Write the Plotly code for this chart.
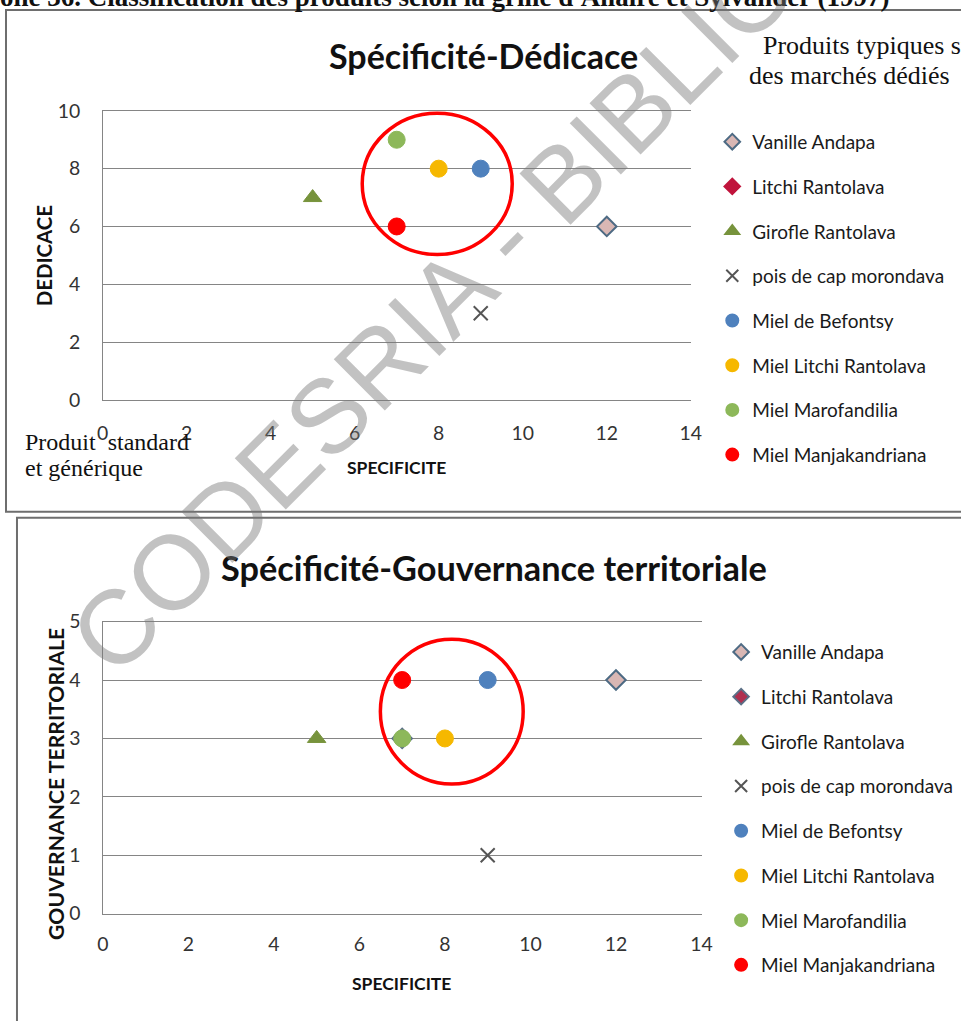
import plotly.graph_objects as go

W, H = 961, 1021

# ---------------- data ----------------
series = ["Vanille Andapa", "Litchi Rantolava", "Girofle Rantolava", "pois de cap morondava",
          "Miel de Befontsy", "Miel Litchi Rantolava", "Miel Marofandilia", "Miel Manjakandriana"]
specificite_1 = [12, 7, 5, 9, 9, 8, 7, 7]
dedicace = [6, 6, 7, 3, 8, 8, 9, 6]
specificite_2 = [12, 7, 5, 9, 9, 8, 7, 7]
gouvernance = [4, 3, 3, 1, 4, 3, 3, 4]
x_ticks = [0, 2, 4, 6, 8, 10, 12, 14]
y_ticks_1 = [0, 2, 4, 6, 8, 10]
y_ticks_2 = [0, 1, 2, 3, 4, 5]

# ---------------- styles ----------------
styles = [
    dict(symbol="diamond", size=15, color="#D9B7B4", line=dict(color="#4E6B84", width=2)),
    dict(symbol="diamond", size=13, color="#C0143C", line=dict(color="#C0143C", width=1)),
    dict(symbol="triangle-up", size=16, color="#77933C", line=dict(color="#77933C", width=1)),
    dict(symbol="x-thin", size=14, color="#555555", line=dict(color="#555555", width=2)),
    dict(symbol="circle", size=17, color="#4F81BD", line=dict(color="#4F81BD", width=1)),
    dict(symbol="circle", size=17, color="#F6B800", line=dict(color="#F6B800", width=1)),
    dict(symbol="circle", size=17, color="#8DB85A", line=dict(color="#8DB85A", width=1)),
    dict(symbol="circle", size=17, color="#FF0000", line=dict(color="#FF0000", width=1)),
]
styles2 = [dict(s) for s in styles]
styles2[1] = dict(symbol="diamond", size=15, color="#B03050", line=dict(color="#5B6F86", width=2))

FONT = "Lato, 'Open Sans', sans-serif"
SERIF = "'Liberation Serif', 'Times New Roman', serif"

fig = go.Figure()

for i, name in enumerate(series):
    fig.add_trace(go.Scatter(
        x=[specificite_1[i]], y=[dedicace[i]], mode="markers", name=name,
        marker=styles[i], xaxis="x", yaxis="y", legend="legend",
        legendgroup="a" + str(i), showlegend=True))
for i, name in enumerate(series):
    fig.add_trace(go.Scatter(
        x=[specificite_2[i]], y=[gouvernance[i]], mode="markers", name=name,
        marker=styles2[i], xaxis="x2", yaxis="y2", legend="legend2",
        legendgroup="b" + str(i), showlegend=True))


# map a target position (in pixels of the photographed page) to paper coordinates
def px_x(p):
    return ((p - 5) / 0.984) / W


def px_y(p):
    return 1 - ((p - 12) / 0.976) / H


GRID = "#858585"
tickfont = dict(family=FONT, size=19.4, color="#333333")


def xaxis(domain, anchor, ticklen):
    return dict(domain=domain, range=[0, 14], tickvals=x_ticks, ticklen=ticklen, anchor=anchor,
                showgrid=False, zeroline=False, ticks="outside", tickcolor="rgba(0,0,0,0)",
                showline=True, mirror=True, linecolor=GRID, linewidth=1,
                tickfont=tickfont, fixedrange=True)


def yaxis(domain, anchor, rng, vals):
    return dict(domain=domain, range=rng, tickvals=vals, ticklen=17.5, anchor=anchor,
                showgrid=True, gridcolor=GRID, gridwidth=1, zeroline=False,
                ticks="outside", tickcolor="rgba(0,0,0,0)",
                showline=True, linecolor=GRID, linewidth=1,
                tickfont=tickfont, fixedrange=True)


legend_font = dict(family=FONT, size=19, color="#1a1a1a")

fig.update_layout(
    width=W, height=H, margin=dict(l=0, r=0, t=0, b=0),
    paper_bgcolor="white", plot_bgcolor="white", showlegend=True,
    xaxis=xaxis([px_x(101.7), px_x(691)], "y", 15.5),
    yaxis=yaxis([px_y(399.3), px_y(110.7)], "x", [0, 10], y_ticks_1),
    xaxis2=xaxis([px_x(102), px_x(701.7)], "y2", 12.7),
    yaxis2=yaxis([px_y(912.3), px_y(620.7)], "x2", [0, 5], y_ticks_2),
    legend=dict(x=(719 / W), y=1 - 113.4 / H, xanchor="left", yanchor="top",
                font=legend_font, bgcolor="rgba(0,0,0,0)",
                traceorder="grouped", tracegroupgap=17, itemsizing="constant"),
    legend2=dict(x=(728 / W), y=1 - 635.4 / H, xanchor="left", yanchor="top",
                 font=legend_font, bgcolor="rgba(0,0,0,0)",
                 traceorder="grouped", tracegroupgap=17, itemsizing="constant"),
)

shapes = [
    # chart frames
    dict(type="rect", xref="paper", yref="paper", x0=px_x(5), x1=px_x(990), y0=px_y(511), y1=px_y(10),
         line=dict(color="#6e6e6e", width=2), layer="below"),
    dict(type="rect", xref="paper", yref="paper", x0=px_x(16), x1=px_x(990), y0=px_y(1040), y1=px_y(517),
         line=dict(color="#6e6e6e", width=2), layer="below"),
    # red circles
    dict(type="circle", xref="x", yref="y", x0=6.18, x1=9.75, y0=5.03, y1=9.92,
         line=dict(color="#FF0000", width=3.5)),
    dict(type="circle", xref="x2", yref="y2", x0=6.49, x1=9.83, y0=2.22, y1=4.70,
         line=dict(color="#FF0000", width=3.5)),
]
fig.update_layout(shapes=shapes)

ann = []


def a(text, x, y, size, family=FONT, bold=False, xanchor="center", yanchor="middle",
      angle=0, color="#111111"):
    t = "<b>" + text + "</b>" if bold else text
    ann.append(dict(text=t, x=px_x(x), y=px_y(y), xref="paper", yref="paper", showarrow=False,
                    xanchor=xanchor, yanchor=yanchor, textangle=angle,
                    font=dict(family=family, size=size, color=color), align="left"))


a("one 36. Classification des produits selon la grille d'Allaire et Sylvander (1997)",
  -3, -3, 27, family=SERIF, bold=True, xanchor="left")
a("Spécificité-Dédicace", 483, 55, 34, bold=True)
a("Produits typiques sur", 761, 45, 26, family=SERIF, xanchor="left")
a("des marchés dédiés", 747, 75, 26, family=SERIF, xanchor="left")
a("DEDICACE", 43, 255, 20.4, bold=True, angle=-90)
a("SPECIFICITE", 396, 467, 17.5, bold=True)
a("Produit\u00a0\u00a0standard", 22, 441, 24, family=SERIF, xanchor="left")
a("et générique", 22, 467, 24, family=SERIF, xanchor="left")

a("Spécificité-Gouvernance territoriale", 494, 567, 34.3, bold=True)
a("GOUVERNANCE TERRITORIALE", 55, 783, 21.2, bold=True, angle=-90)
a("SPECIFICITE", 401, 982, 17.5, bold=True)

# watermark
a("CODESRIA - BIBLIOTHEQUE", 588, 155, 105, family="'Liberation Sans', Arial, sans-serif",
  angle=-45, color="rgba(120,120,120,0.45)")

fig.update_layout(annotations=ann)

fig.write_html("out.html", config={"displayModeBar": False},
               post_script="document.body.style.margin='0';document.body.style.overflow='hidden';")
